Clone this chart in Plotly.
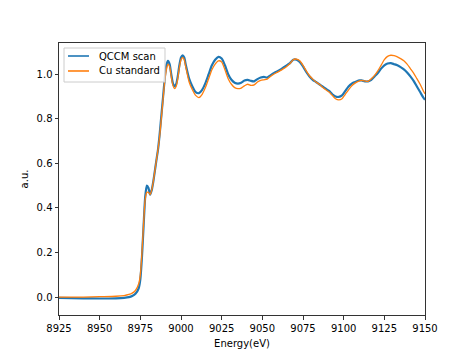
import plotly.graph_objects as go

energy = [8925, 8940, 8950, 8960, 8965, 8968, 8970, 8972, 8974, 8975, 8976, 8977, 8978, 8979, 8980,
          8981, 8982, 8983, 8984, 8985, 8986, 8987, 8988, 8989, 8990, 8991, 8992, 8993, 8994, 8995,
          8996, 8997, 8998, 8999, 9000, 9001, 9002, 9003, 9005, 9007, 9009, 9011, 9013, 9015, 9017,
          9019, 9021, 9023, 9025, 9027, 9029, 9031, 9033, 9035, 9037, 9039, 9041, 9043, 9045, 9047,
          9049, 9051, 9053, 9055, 9057, 9059, 9061, 9063, 9065, 9067, 9069, 9071, 9073, 9075, 9077,
          9079, 9081, 9083, 9085, 9087, 9089, 9091, 9093, 9095, 9097, 9099, 9101, 9103, 9105, 9107,
          9109, 9111, 9113, 9115, 9117, 9119, 9121, 9123, 9125, 9127, 9129, 9131, 9133, 9135, 9137,
          9139, 9141, 9143, 9145, 9147, 9149, 9150]

qccm_scan = [-0.003, -0.005, -0.006, -0.005, -0.003, 0.000, 0.005, 0.015, 0.04, 0.08, 0.18, 0.32, 0.45, 0.50, 0.49,
             0.46, 0.48, 0.52, 0.57, 0.62, 0.67, 0.74, 0.82, 0.90, 0.98, 1.04, 1.06, 1.045, 1.00, 0.96,
             0.945, 0.955, 0.99, 1.04, 1.075, 1.085, 1.075, 1.04, 0.98, 0.945, 0.92, 0.915, 0.93, 0.96, 1.00,
             1.04, 1.065, 1.078, 1.07, 1.04, 1.00, 0.975, 0.962, 0.958, 0.962, 0.972, 0.975, 0.97, 0.968, 0.978,
             0.985, 0.988, 0.985, 0.995, 1.005, 1.012, 1.02, 1.03, 1.04, 1.05, 1.065, 1.065, 1.055, 1.035, 1.01,
             0.99, 0.975, 0.965, 0.955, 0.945, 0.935, 0.925, 0.91, 0.90, 0.898, 0.905, 0.925, 0.945, 0.958, 0.965,
             0.972, 0.972, 0.968, 0.968, 0.975, 0.99, 1.005, 1.025, 1.04, 1.048, 1.05, 1.045, 1.04, 1.032, 1.022,
             1.008, 0.99, 0.97, 0.945, 0.92, 0.895, 0.885]

cu_standard = [0.0, 0.0, 0.002, 0.004, 0.007, 0.012, 0.018, 0.03, 0.06, 0.10, 0.20, 0.33, 0.44, 0.47, 0.47,
               0.46, 0.48, 0.52, 0.57, 0.62, 0.67, 0.73, 0.81, 0.89, 0.97, 1.02, 1.045, 1.035, 0.99, 0.95,
               0.935, 0.945, 0.98, 1.03, 1.065, 1.075, 1.065, 1.03, 0.965, 0.93, 0.905, 0.895, 0.91, 0.94, 0.98,
               1.02, 1.045, 1.06, 1.055, 1.02, 0.98, 0.955, 0.94, 0.935, 0.938, 0.948, 0.955, 0.95, 0.952, 0.965,
               0.972, 0.975, 0.978, 0.99, 1.0, 1.008, 1.016, 1.025, 1.035, 1.048, 1.065, 1.068, 1.06, 1.04, 1.015,
               0.993, 0.978, 0.965, 0.955, 0.942, 0.93, 0.92, 0.905, 0.89, 0.885, 0.89, 0.91, 0.93, 0.948, 0.96,
               0.968, 0.972, 0.97, 0.968, 0.98, 0.995, 1.015, 1.04, 1.065, 1.08, 1.085, 1.083, 1.078, 1.07, 1.06,
               1.045, 1.025, 1.005, 0.98, 0.955, 0.925, 0.912]

series_names = ["QCCM scan", "Cu standard"]
series_colors = ["#1f77b4", "#ff7f0e"]
series_widths = [2.2, 1.3]

x_ticks = [8925, 8950, 8975, 9000, 9025, 9050, 9075, 9100, 9125, 9150]
y_ticks = [0.0, 0.2, 0.4, 0.6, 0.8, 1.0]

font = dict(family="DejaVu Sans", size=10, color="black")

fig = go.Figure()
for vals, name, col, w in zip([qccm_scan, cu_standard], series_names, series_colors, series_widths):
    fig.add_trace(go.Scatter(x=energy, y=vals, mode="lines", name=name, showlegend=False,
                             line=dict(color=col, width=w, shape="spline", smoothing=0.6)))

# legend box (matplotlib style), drawn in paper coordinates
shapes = [dict(type="rect", xref="paper", yref="paper", x0=0.0137, x1=0.2896, y0=0.8566, y1=0.9816,
               line=dict(color="#cccccc", width=1), fillcolor="rgba(255,255,255,0.8)", layer="above")]
annotations = []
legend_rows = [0.9522, 0.8971]
for name, col, w, yy in zip(series_names, series_colors, series_widths, legend_rows):
    shapes.append(dict(type="line", xref="paper", yref="paper", x0=0.0246, x1=0.082, y0=yy, y1=yy,
                       line=dict(color=col, width=1.6), layer="above"))
    annotations.append(dict(xref="paper", yref="paper", x=0.1038, y=yy, text=name, showarrow=False,
                            xanchor="left", yanchor="middle", font=font))

axis_common = dict(showgrid=False, zeroline=False, showline=True, mirror=True,
                   linecolor="#333333", linewidth=1, ticks="outside", ticklen=3.5,
                   tickcolor="#333333", tickfont=font, automargin=False)

fig.update_layout(
    width=472, height=354,
    margin=dict(l=59, r=47, t=43, b=39),
    paper_bgcolor="white", plot_bgcolor="white",
    font=font,
    shapes=shapes,
    annotations=annotations,
    xaxis=dict(range=[8925, 9150], tickvals=x_ticks, ticktext=[str(v) for v in x_ticks],
               title=dict(text="Energy(eV)", font=font, standoff=7), **axis_common),
    yaxis=dict(range=[-0.08, 1.14], tickvals=y_ticks, ticktext=[f"{v:.1f}" for v in y_ticks],
               title=dict(text="a.u.", font=font, standoff=6), **axis_common),
)

fig.write_html("out.html")
